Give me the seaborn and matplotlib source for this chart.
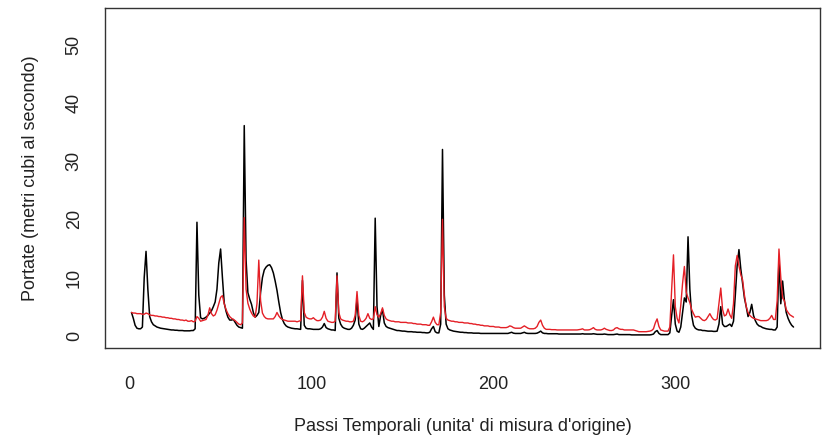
import numpy as np
import pandas as pd
import matplotlib
matplotlib.use("Agg")
import matplotlib.pyplot as plt
import seaborn as sns

# observed discharge (black) and simulated discharge (red), one value per time step
observed = [
    4.0, 3.0, 1.8, 1.3, 1.2, 1.2, 1.5, 10.0, 14.5, 8.0,
    3.3, 2.4, 1.9, 1.7, 1.5, 1.4, 1.3, 1.25, 1.2, 1.15,
    1.1, 1.05, 1.0, 1.0, 0.95, 0.95, 0.9, 0.9, 0.9, 0.85,
    0.85, 0.85, 0.85, 0.9, 0.9, 1.2, 19.5, 7.0, 3.1, 2.9,
    3.0, 3.2, 3.5, 3.9, 4.3, 5.0, 5.8, 8.0, 12.5, 14.9,
    10.0, 5.6, 4.2, 3.2, 2.7, 2.7, 2.8, 2.3, 1.8, 1.5,
    1.4, 1.3, 36.1, 13.0, 7.4, 6.3, 5.4, 4.0, 3.2, 3.5,
    4.0, 7.5, 10.0, 11.3, 11.8, 12.1, 12.2, 11.7, 10.8, 9.4,
    7.8, 5.8, 4.0, 2.8, 2.1, 1.7, 1.5, 1.4, 1.3, 1.25,
    1.2, 1.2, 1.15, 1.1, 9.5, 1.8, 1.3, 1.2, 1.2, 1.15,
    1.1, 1.1, 1.1, 1.1, 1.2, 1.5, 2.1, 1.4, 1.2, 1.1,
    1.0, 1.0, 0.9, 10.8, 3.0, 2.0, 1.5, 1.3, 1.2, 1.1,
    1.1, 1.3, 1.8, 2.7, 6.2, 2.0, 1.2, 1.1, 1.3, 1.6,
    1.9, 2.2, 1.5, 1.1, 20.2, 5.0, 1.6, 3.5, 4.5, 2.2,
    1.6, 1.4, 1.3, 1.2, 1.1, 1.0, 0.9, 0.9, 0.85, 0.8,
    0.8, 0.75, 0.7, 0.7, 0.7, 0.65, 0.65, 0.6, 0.6, 0.6,
    0.55, 0.55, 0.5, 0.5, 0.6, 1.2, 1.6, 0.7, 0.5, 0.5,
    2.0, 32.0, 7.0, 2.0, 1.2, 1.0, 0.9, 0.8, 0.75, 0.7,
    0.65, 0.6, 0.6, 0.55, 0.55, 0.5, 0.5, 0.5, 0.45, 0.45,
    0.45, 0.45, 0.4, 0.4, 0.4, 0.4, 0.4, 0.4, 0.4, 0.4,
    0.4, 0.4, 0.4, 0.4, 0.4, 0.4, 0.4, 0.4, 0.5, 0.6,
    0.45, 0.4, 0.4, 0.4, 0.4, 0.5, 0.6, 0.45, 0.4, 0.4,
    0.4, 0.4, 0.4, 0.45, 0.6, 0.8, 0.5, 0.4, 0.4, 0.35,
    0.35, 0.35, 0.35, 0.35, 0.35, 0.3, 0.3, 0.3, 0.3, 0.3,
    0.3, 0.3, 0.3, 0.3, 0.3, 0.3, 0.3, 0.3, 0.35, 0.3,
    0.3, 0.3, 0.3, 0.3, 0.35, 0.3, 0.25, 0.25, 0.25, 0.25,
    0.3, 0.25, 0.2, 0.2, 0.2, 0.2, 0.25, 0.3, 0.2, 0.2,
    0.2, 0.2, 0.2, 0.2, 0.2, 0.15, 0.15, 0.15, 0.15, 0.15,
    0.15, 0.15, 0.15, 0.15, 0.15, 0.15, 0.2, 0.3, 0.7, 0.9,
    0.4, 0.2, 0.2, 0.2, 0.2, 0.2, 0.5, 3.5, 6.2, 2.0,
    0.8, 0.6, 1.5, 4.0, 6.5, 5.8, 17.0, 8.0, 3.5, 1.8,
    1.3, 1.1, 1.0, 1.0, 0.9, 0.9, 0.85, 0.8, 0.8, 0.8,
    0.75, 0.75, 0.8, 2.0, 5.0, 2.0, 1.6, 1.6, 1.8, 2.0,
    1.6, 2.5, 7.0, 12.0, 14.8, 11.5, 9.0, 6.5, 5.0, 3.3,
    4.0, 5.4, 3.5, 2.6, 2.0, 1.7, 1.6, 1.4, 1.3, 1.2,
    1.15, 1.1, 1.1, 1.0, 1.0, 1.5, 13.2, 5.5, 9.4, 6.0,
    4.0, 3.0, 2.3, 1.8, 1.5,
]

simulated = [
    4.0, 3.9, 3.9, 3.8, 3.8, 3.8, 3.7, 3.7, 3.9, 3.8,
    3.6, 3.5, 3.5, 3.4, 3.4, 3.3, 3.3, 3.2, 3.2, 3.1,
    3.1, 3.0, 3.0, 2.9, 2.9, 2.8, 2.8, 2.7, 2.7, 2.6,
    2.7, 2.5, 2.5, 2.6, 2.4, 2.5, 3.3, 3.0, 2.5, 2.6,
    2.7, 2.8, 3.5, 4.8, 3.8, 3.4, 3.6, 4.4, 5.5, 6.6,
    6.9, 5.5, 4.5, 3.8, 3.3, 3.0, 2.8, 2.6, 2.3, 2.0,
    1.9, 2.2, 20.3, 8.0, 5.6, 4.6, 3.9, 3.4, 3.2, 5.5,
    13.0, 6.0, 3.9, 3.3, 3.0, 2.9, 2.9, 2.9, 2.9, 3.3,
    4.0, 3.4, 3.0, 2.8, 2.7, 2.6, 2.5, 2.5, 2.5, 2.5,
    2.5, 2.4, 2.5, 2.6, 10.3, 4.0, 3.2, 3.0, 2.9, 2.9,
    3.1, 2.8, 2.6, 2.6, 2.7, 3.2, 4.2, 3.0, 2.5, 2.4,
    2.3, 2.3, 2.5, 10.3, 4.0, 2.9, 2.7, 2.6, 2.5, 2.5,
    2.4, 2.4, 2.5, 3.5, 7.6, 3.5, 2.5, 2.4, 2.6, 3.0,
    3.8, 3.0, 2.8, 2.9, 5.0, 3.6, 3.2, 3.8, 4.8, 3.5,
    2.9, 2.7, 2.6, 2.5, 2.5, 2.4, 2.4, 2.4, 2.3, 2.3,
    2.3, 2.3, 2.2, 2.2, 2.2, 2.1, 2.1, 2.0, 2.0, 2.0,
    1.9, 1.9, 1.9, 1.8, 1.8, 2.4, 3.2, 2.3, 1.9, 1.9,
    4.0, 20.0, 5.0, 3.0, 2.7, 2.6, 2.5, 2.5, 2.4, 2.4,
    2.3, 2.3, 2.3, 2.2, 2.2, 2.2, 2.1, 2.1, 2.0, 2.0,
    1.9, 1.9, 1.8, 1.8, 1.7, 1.7, 1.7, 1.6, 1.6, 1.6,
    1.5, 1.5, 1.5, 1.4, 1.4, 1.4, 1.4, 1.5, 1.7, 1.6,
    1.4, 1.3, 1.3, 1.3, 1.3, 1.5, 1.7, 1.5, 1.3, 1.2,
    1.2, 1.2, 1.3, 1.6, 2.3, 2.7, 1.8, 1.3, 1.1, 1.1,
    1.1, 1.05, 1.05, 1.05, 1.0, 1.0, 1.0, 1.0, 1.0, 1.0,
    1.0, 1.0, 1.0, 1.0, 1.0, 1.0, 1.05, 1.1, 1.2, 1.0,
    1.0, 1.0, 1.05, 1.2, 1.4, 1.1, 1.0, 1.0, 1.0, 1.1,
    1.3, 1.1, 1.0, 0.9, 0.9, 1.0, 1.3, 1.4, 1.2, 1.1,
    1.1, 1.0, 1.0, 1.0, 1.0, 1.0, 1.0, 0.9, 0.8, 0.7,
    0.7, 0.7, 0.7, 0.7, 0.75, 0.8, 0.9, 1.2, 2.2, 2.9,
    1.6, 1.0, 0.9, 0.8, 0.8, 0.8, 1.5, 8.0, 13.9, 5.0,
    3.0, 2.2, 5.2, 9.0, 11.9, 7.5, 6.5, 5.7, 4.5, 3.8,
    3.2, 3.3, 3.3, 3.0, 2.7, 2.6, 2.8, 3.3, 3.8, 3.2,
    2.8, 2.7, 2.9, 5.5, 8.2, 4.5, 3.4, 3.6, 4.6, 3.6,
    3.0, 5.5, 12.0, 13.8, 12.0, 10.5, 9.6, 7.0, 5.0, 4.0,
    3.5, 3.2, 3.0, 2.9, 2.8, 2.7, 2.6, 2.6, 2.6, 2.6,
    2.7, 3.0, 3.5, 2.8, 2.8, 6.0, 14.9, 10.0, 6.5, 6.0,
    4.5, 4.0, 3.6, 3.4, 3.2,
]

steps = np.arange(1, len(observed) + 1)
x_ticks = [0, 100, 200, 300]
y_ticks = [0, 10, 20, 30, 40, 50]

df = pd.DataFrame({"step": steps, "obs": observed, "sim": simulated})

sns.set_style("white")
plt.rcParams["font.family"] = ["Liberation Sans", "DejaVu Sans"]

fig = plt.figure(figsize=(8.24, 4.37), dpi=100)
ax = fig.add_axes([105 / 824, 1 - 348 / 437, 715 / 824, 340 / 437])

sns.lineplot(data=df, x="step", y="obs", color="black", linewidth=1.1, ax=ax)
sns.lineplot(data=df, x="step", y="sim", color="#e41f26", linewidth=1.0, ax=ax)

n = len(observed)
ax.set_xlim(1 - 0.04 * (n - 1), n + 0.04 * (n - 1))
ax.set_ylim(-2.1, 56.3)
ax.set_xticks(x_ticks)
ax.set_yticks(y_ticks)

for s in ax.spines.values():
    s.set_visible(True)
    s.set_color("#333333")
    s.set_linewidth(1.0)

ax.tick_params(axis="both", direction="out", length=7, width=1.0, color="#333333",
               labelsize=13, labelcolor="#222222")
ax.tick_params(axis="x", pad=13)
ax.tick_params(axis="y", pad=9)
for lab in ax.get_yticklabels():
    lab.set_rotation(90)
    lab.set_va("center")

ax.set_xlabel("Passi Temporali (unita' di misura d'origine)", fontsize=13, color="#222222")
ax.set_ylabel("Portate (metri cubi al secondo)", fontsize=13, color="#222222")
ax.xaxis.set_label_coords(0.5, -0.205)
ax.yaxis.set_label_coords(-0.092, 0.5)

fig.savefig("out.png", dpi=100)
